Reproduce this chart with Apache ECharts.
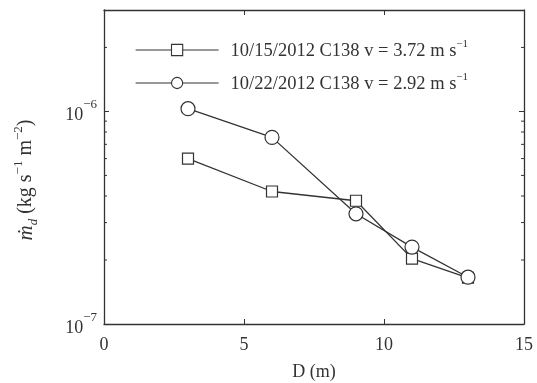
<!DOCTYPE html>
<html><head><meta charset="utf-8">
<script src="https://cdn.jsdelivr.net/npm/echarts@6/dist/echarts.min.js"></script>
<style>html,body{margin:0;padding:0;background:#fff}#c{width:537px;height:383px}</style>
</head><body><div id="c"></div>
<script>
const distances = [3, 6, 9, 11, 13];
const series1Name = '10/15/2012 C138 v = 3.72 m s';
const series1Values = [6.0e-7, 4.2e-7, 3.8e-7, 2.03e-7, 1.65e-7];
const series2Name = '10/22/2012 C138 v = 2.92 m s';
const series2Values = [1.03e-6, 7.55e-7, 3.3e-7, 2.3e-7, 1.66e-7];
const xTicks = [0, 5, 10, 15];
const yMin = 1e-7, yMax = 3e-6;
const minorTickValues = [2e-7,3e-7,4e-7,5e-7,6e-7,7e-7,8e-7,9e-7,2e-6];

const FONT = '"Liberation Serif", "Times New Roman", serif';
const INK = '#333';
const chart = echarts.init(document.getElementById('c'), null, {renderer: 'canvas'});

const supRich = {
  b: {fontFamily: FONT, fontSize: 18, color: INK, lineHeight: 26, verticalAlign: 'bottom'},
  s: {fontFamily: FONT, fontSize: 13, color: INK, lineHeight: 26, verticalAlign: 'top'}
};

function pair(xs, ys) { return xs.map((x, i) => [x, ys[i]]); }

const option = {
  animation: false,
  textStyle: {fontFamily: FONT},
  grid: {left: 104, right: 13, top: 10, bottom: 59, containLabel: false, outerBoundsMode: 'none'},
  legend: {
    left: 135, top: 39, orient: 'vertical', itemGap: 11, padding: 0,
    itemWidth: 83, itemHeight: 14,
    data: [series1Name, series2Name],
    lineStyle: {width: 1.2, color: INK},
    itemStyle: {borderWidth: 1.1, borderColor: INK, color: '#fff'},
    formatter: n => '{t|' + n + '}{s|−1}',
    textStyle: {
      fontFamily: FONT, fontSize: 18, color: INK, padding: [0, 0, 0, 7],
      rich: {
        t: {fontFamily: FONT, fontSize: 18.5, color: INK, lineHeight: 22, verticalAlign: 'bottom'},
        s: {fontFamily: FONT, fontSize: 11, color: INK, lineHeight: 22, verticalAlign: 'top'}
      }
    }
  },
  xAxis: [{
    type: 'value', min: 0, max: 15, interval: 5,
    name: 'D (m)', nameLocation: 'middle', nameGap: 39,
    nameTextStyle: {fontFamily: FONT, fontSize: 18, color: INK},
    axisLine: {show: true, onZero: false, lineStyle: {color: INK, width: 1.3}},
    axisTick: {show: true, inside: true, length: 5, lineStyle: {color: INK}},
    axisLabel: {fontFamily: FONT, fontSize: 18, color: INK, margin: 12},
    splitLine: {show: false}
  }, {
    type: 'value', min: 0, max: 15, interval: 5, position: 'top',
    axisLine: {show: true, onZero: false, lineStyle: {color: INK, width: 1.3}},
    axisTick: {show: true, inside: true, length: 5, lineStyle: {color: INK}},
    axisLabel: {show: false}, splitLine: {show: false}
  }],
  yAxis: [{
    type: 'log', logBase: 10, min: yMin, max: yMax,
    name: '{i|ṁ}{d|d}{t| (kg s}{s|−1}{t| m}{s|−2}{t|)}',
    nameLocation: 'middle', nameRotate: 90, nameGap: 64,
    nameTextStyle: {
      fontFamily: FONT, fontSize: 20, color: INK, padding: [0, 26, 0, 0],
      rich: {
        i: {fontFamily: FONT, fontStyle: 'italic', fontSize: 21, color: INK, lineHeight: 28},
        d: {fontFamily: FONT, fontStyle: 'italic', fontSize: 13, color: INK, lineHeight: 28, verticalAlign: 'bottom'},
        t: {fontFamily: FONT, fontSize: 20, color: INK, lineHeight: 28},
        s: {fontFamily: FONT, fontSize: 13, color: INK, lineHeight: 28, verticalAlign: 'top'}
      }
    },
    axisLine: {show: true, onZero: false, lineStyle: {color: INK, width: 1.3}},
    axisTick: {show: true, inside: true, length: 5, lineStyle: {color: INK}},
    axisLabel: {
      margin: 7, color: INK,
      formatter: v => {
        const e = Math.log10(v);
        if (Math.abs(e - Math.round(e)) > 1e-6) return '';
        return '{b|10}{s|−' + Math.abs(Math.round(e)) + '}';
      },
      rich: supRich
    },
    splitLine: {show: false}
  }, {
    type: 'log', logBase: 10, min: yMin, max: yMax, position: 'right',
    axisLine: {show: true, onZero: false, lineStyle: {color: INK, width: 1.3}},
    axisTick: {show: true, inside: true, length: 5, lineStyle: {color: INK}},
    axisLabel: {show: false}, splitLine: {show: false}
  }],
  series: [{
    name: series1Name, type: 'line', data: pair(distances, series1Values),
    symbol: 'rect', symbolSize: 11,
    itemStyle: {color: '#fff', borderColor: INK, borderWidth: 1.2},
    lineStyle: {color: INK, width: 1.3}
  }, {
    name: series2Name, type: 'line', data: pair(distances, series2Values),
    symbol: 'circle', symbolSize: 14,
    itemStyle: {color: '#fff', borderColor: INK, borderWidth: 1.2},
    lineStyle: {color: INK, width: 1.3}
  }, {
    type: 'custom', silent: true, z: 1,
    data: minorTickValues.map(v => [0, v]),
    renderItem: (params, api) => {
      const v = api.value(1);
      const l = api.coord([0, v]);
      const r = api.coord([15, v]);
      return {type: 'group', children: [
        {type: 'line', shape: {x1: l[0], y1: l[1], x2: l[0] + 3, y2: l[1]}, style: {stroke: INK, lineWidth: 1}},
        {type: 'line', shape: {x1: r[0], y1: r[1], x2: r[0] - 3, y2: r[1]}, style: {stroke: INK, lineWidth: 1}}
      ]};
    }
  }]
};
chart.setOption(option);
</script></body></html>
